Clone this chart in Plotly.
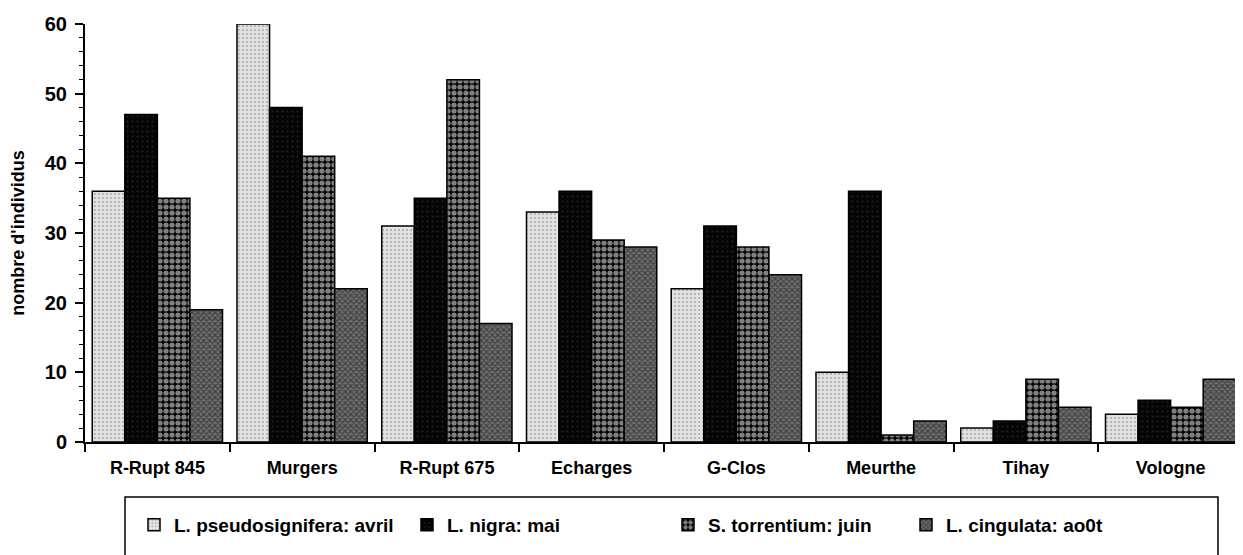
import plotly.graph_objects as go

# ---- data ----
sites = ["R-Rupt 845", "Murgers", "R-Rupt 675", "Echarges", "G-Clos", "Meurthe", "Tihay", "Vologne"]
pseudosignifera_avril = [36, 60, 31, 33, 22, 10, 2, 4]
nigra_mai = [47, 48, 35, 36, 31, 36, 3, 6]
torrentium_juin = [35, 41, 52, 29, 28, 1, 9, 5]
cingulata_aout = [19, 22, 17, 28, 24, 3, 5, 9]
series_names = ["L. pseudosignifera: avril", "L. nigra: mai", "S. torrentium: juin", "L. cingulata: ao0t"]
y_tick_vals = [0, 10, 20, 30, 40, 50, 60]
y_title = "nombre d'individus"

series_values = [pseudosignifera_avril, nigra_mai, torrentium_juin, cingulata_aout]

styles = [
    dict(color="#e0e0e0", pattern=dict(shape=".", fgcolor="#8c8c8c", bgcolor="#e4e4e4", size=4, solidity=0.3)),
    dict(color="#0a0a0a", pattern=dict(shape=".", fgcolor="#3a3a3a", bgcolor="#050505", size=5, solidity=0.15)),
    dict(color="#000000", pattern=dict(shape=".", fgcolor="#ffffff", bgcolor="#000000", size=6, solidity=0.6)),
    dict(color="#444444", pattern=dict(shape="x", fgcolor="#111111", bgcolor="#6e6e6e", size=4, solidity=0.5)),
]

W, H = 1243, 555
L, R, T, B = 77, 8, 16, 121
plot_w = W - L - R
plot_h = H - T - B

def px_x(p):
    return (p - L) / plot_w

def px_y(p):
    return (H - B - p) / plot_h

legend_names = ["legend", "legend2", "legend3", "legend4"]
legend_px = [126, 399, 660, 898]

legend_font = dict(family="Liberation Sans, Arial", size=19, color="black", weight="bold")

fig = go.Figure()
for name, vals, st, lg in zip(series_names, series_values, styles, legend_names):
    fig.add_trace(go.Bar(
        x=sites, y=vals, name=name, legend=lg,
        marker=dict(color=st["color"], pattern=st["pattern"], line=dict(color="black", width=1.5)),
    ))

layout_legends = {}
for lg, p in zip(legend_names, legend_px):
    layout_legends[lg] = dict(
        xref="container", yref="container",
        x=p / W, y=1 - 517 / H, xanchor="left", yanchor="middle",
        orientation="h", bgcolor="rgba(0,0,0,0)", borderwidth=0,
        font=legend_font, itemwidth=30,
    )

fig.update_layout(
    width=W, height=H,
    margin=dict(l=L, r=R, t=T, b=B, pad=0, autoexpand=False),
    paper_bgcolor="white", plot_bgcolor="white",
    barmode="group", bargap=0.1, bargroupgap=0,
    showlegend=True,
    font=dict(family="Liberation Sans, Arial", color="black"),
    **layout_legends,
)

fig.update_xaxes(
    type="category", showline=True, linecolor="black", linewidth=2,
    ticks="outside", tickson="boundaries", ticklen=8, tickwidth=1.5, tickcolor="black",
    showgrid=False, zeroline=False, automargin=False, ticklabelstandoff=8,
    tickfont=dict(family="Liberation Sans, Arial", size=18, color="black", weight="bold"),
)
fig.update_yaxes(
    range=[0, 60], tickvals=y_tick_vals, showline=True, linecolor="black", linewidth=2,
    ticks="outside", ticklen=8, tickwidth=1.5, tickcolor="black",
    minor=dict(dtick=2, ticks="outside", ticklen=4, tickwidth=1, tickcolor="black"),
    showgrid=False, zeroline=False, automargin=False, ticklabelstandoff=4,
    tickfont=dict(family="Liberation Sans, Arial", size=20, color="black", weight="bold"),
    title=dict(text=y_title,
               font=dict(family="Liberation Sans, Arial", size=18, color="black", weight="bold")),
)

# legend frame
fig.add_shape(type="rect", xref="paper", yref="paper",
              x0=px_x(117), x1=px_x(1210), y0=px_y(575), y1=px_y(489),
              line=dict(color="black", width=1.5), fillcolor="rgba(0,0,0,0)", layer="above")

fig.write_html("out.html")
